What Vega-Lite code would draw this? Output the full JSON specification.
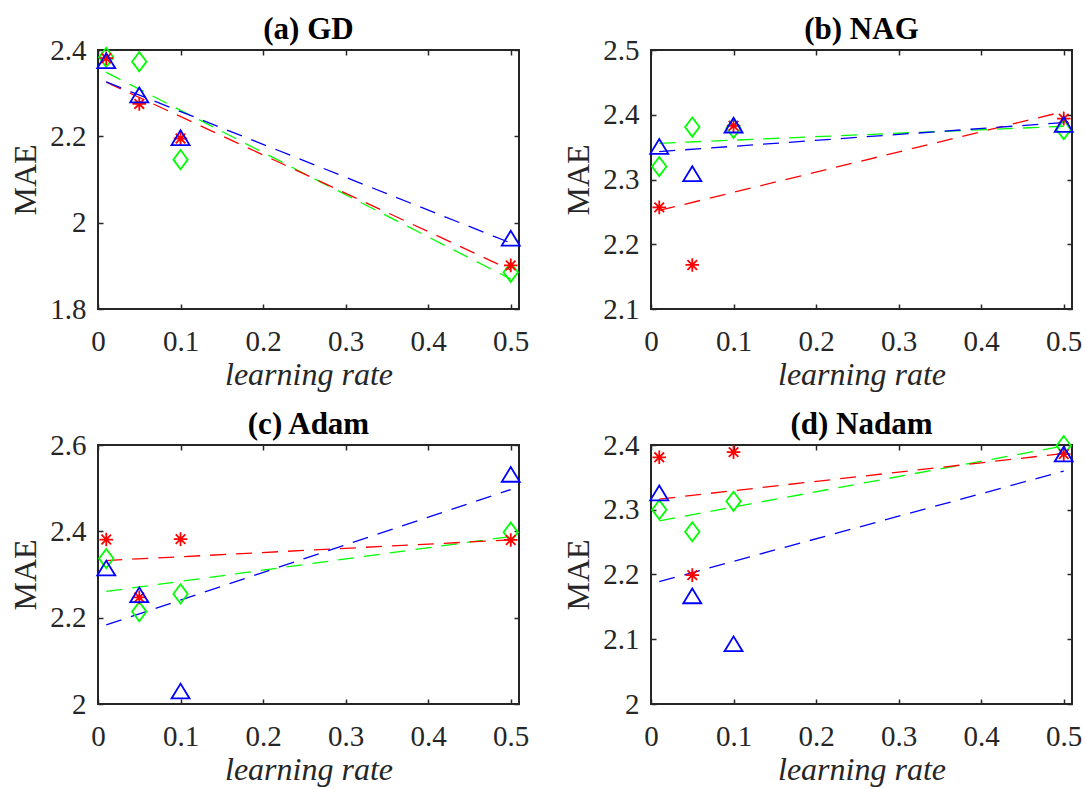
{
  "$schema": "https://vega.github.io/schema/vega-lite/v6.json",
  "autosize": {"type": "none"},
  "padding": {"left": 98, "top": 50, "right": 988, "bottom": 739},
  "background": "white",
  "bounds": "flush",
  "columns": 2,
  "spacing": {"row": 136, "column": 132},
  "datasets": {
    "pts": [
      {"p": "a", "s": "g", "x": 0.01, "y": 2.383}, {"p": "a", "s": "g", "x": 0.05, "y": 2.373}, {"p": "a", "s": "g", "x": 0.1, "y": 2.146}, {"p": "a", "s": "g", "x": 0.5, "y": 1.885},
      {"p": "a", "s": "r", "x": 0.01, "y": 2.381}, {"p": "a", "s": "r", "x": 0.05, "y": 2.275}, {"p": "a", "s": "r", "x": 0.1, "y": 2.195}, {"p": "a", "s": "r", "x": 0.5, "y": 1.901},
      {"p": "a", "s": "b", "x": 0.01, "y": 2.375}, {"p": "a", "s": "b", "x": 0.05, "y": 2.296}, {"p": "a", "s": "b", "x": 0.1, "y": 2.197}, {"p": "a", "s": "b", "x": 0.5, "y": 1.964},
      {"p": "b", "s": "g", "x": 0.01, "y": 2.320}, {"p": "b", "s": "g", "x": 0.05, "y": 2.381}, {"p": "b", "s": "g", "x": 0.1, "y": 2.379}, {"p": "b", "s": "g", "x": 0.5, "y": 2.377},
      {"p": "b", "s": "r", "x": 0.01, "y": 2.257}, {"p": "b", "s": "r", "x": 0.05, "y": 2.168}, {"p": "b", "s": "r", "x": 0.1, "y": 2.383}, {"p": "b", "s": "r", "x": 0.5, "y": 2.394},
      {"p": "b", "s": "b", "x": 0.01, "y": 2.351}, {"p": "b", "s": "b", "x": 0.05, "y": 2.309}, {"p": "b", "s": "b", "x": 0.1, "y": 2.384}, {"p": "b", "s": "b", "x": 0.5, "y": 2.385},
      {"p": "c", "s": "g", "x": 0.01, "y": 2.337}, {"p": "c", "s": "g", "x": 0.05, "y": 2.214}, {"p": "c", "s": "g", "x": 0.1, "y": 2.255}, {"p": "c", "s": "g", "x": 0.5, "y": 2.398},
      {"p": "c", "s": "r", "x": 0.01, "y": 2.381}, {"p": "c", "s": "r", "x": 0.05, "y": 2.247}, {"p": "c", "s": "r", "x": 0.1, "y": 2.382}, {"p": "c", "s": "r", "x": 0.5, "y": 2.380},
      {"p": "c", "s": "b", "x": 0.01, "y": 2.315}, {"p": "c", "s": "b", "x": 0.05, "y": 2.253}, {"p": "c", "s": "b", "x": 0.1, "y": 2.030}, {"p": "c", "s": "b", "x": 0.5, "y": 2.532},
      {"p": "d", "s": "g", "x": 0.01, "y": 2.300}, {"p": "d", "s": "g", "x": 0.05, "y": 2.266}, {"p": "d", "s": "g", "x": 0.1, "y": 2.313}, {"p": "d", "s": "g", "x": 0.5, "y": 2.399},
      {"p": "d", "s": "r", "x": 0.01, "y": 2.381}, {"p": "d", "s": "r", "x": 0.05, "y": 2.199}, {"p": "d", "s": "r", "x": 0.1, "y": 2.389}, {"p": "d", "s": "r", "x": 0.5, "y": 2.386},
      {"p": "d", "s": "b", "x": 0.01, "y": 2.326}, {"p": "d", "s": "b", "x": 0.05, "y": 2.167}, {"p": "d", "s": "b", "x": 0.1, "y": 2.093}, {"p": "d", "s": "b", "x": 0.5, "y": 2.386}
    ]
  },
  "concat": [
    {
      "width": 421, "height": 259,
      "title": {"text": "(a) GD"},
      "data": {"name": "pts"},
      "transform": [{"filter": "datum.p == 'a'"}],
      "resolve": {"axis": {"x": "independent", "y": "independent"}},
      "layer": [
        {
          "transform": [{"regression": "y", "on": "x", "groupby": ["s"]}],
          "mark": {"type": "line", "strokeDash": [16, 10], "strokeWidth": 1.3},
          "encoding": {
            "x": {"field": "x", "type": "quantitative", "scale": {"domain": [0, 0.51], "nice": false, "zero": false}, "axis": {"orient": "bottom", "values": [0, 0.1, 0.2, 0.3, 0.4, 0.5], "format": "~g", "title": "learning rate", "titleFontStyle": "italic", "titleX": 210.5, "titleY": 75, "titleBaseline": "alphabetic", "titleAlign": "center", "labelPadding": 23, "labelFlush": false}},
            "y": {"field": "y", "type": "quantitative", "scale": {"domain": [1.8, 2.4], "nice": false, "zero": false}, "axis": {"orient": "left", "values": [1.8, 2.0, 2.2, 2.4], "format": "~g", "title": "MAE", "titleX": -63, "titleY": 129.5, "titleAngle": -90, "titleBaseline": "alphabetic", "titleAlign": "center", "labelPadding": 17}},
            "color": {"field": "s", "type": "nominal", "scale": {"domain": ["r", "g", "b"], "range": ["#ff0000", "#00ff00", "#0000ff"]}, "legend": null}
          }
        },
        {
          "mark": {"type": "point", "filled": false, "opacity": 1, "strokeWidth": 1.8, "size": 400},
          "encoding": {
            "x": {"field": "x", "type": "quantitative", "scale": {"domain": [0, 0.51], "nice": false, "zero": false}, "axis": {"orient": "top", "values": [0, 0.1, 0.2, 0.3, 0.4, 0.5], "labels": false, "title": null}},
            "y": {"field": "y", "type": "quantitative", "scale": {"domain": [1.8, 2.4], "nice": false, "zero": false}, "axis": {"orient": "right", "values": [1.8, 2.0, 2.2, 2.4], "labels": false, "title": null}},
            "color": {"field": "s", "type": "nominal", "scale": {"domain": ["r", "g", "b"], "range": ["#ff0000", "#00ff00", "#0000ff"]}, "legend": null},
            "shape": {"field": "s", "type": "nominal", "scale": {"domain": ["r", "g", "b"], "range": ["M0,-0.68L0,0.68M-0.68,0L0.68,0M-0.48,-0.48L0.48,0.48M-0.48,0.48L0.48,-0.48", "M0,-0.96L0.72,0L0,0.96L-0.72,0Z", "M0,-0.74L0.9,0.74L-0.9,0.74Z"]}, "legend": null}
          }
        }
      ]
    },
    {
      "width": 421, "height": 259,
      "title": {"text": "(b) NAG"},
      "data": {"name": "pts"},
      "transform": [{"filter": "datum.p == 'b'"}],
      "resolve": {"axis": {"x": "independent", "y": "independent"}},
      "layer": [
        {
          "transform": [{"regression": "y", "on": "x", "groupby": ["s"]}],
          "mark": {"type": "line", "strokeDash": [16, 10], "strokeWidth": 1.3},
          "encoding": {
            "x": {"field": "x", "type": "quantitative", "scale": {"domain": [0, 0.51], "nice": false, "zero": false}, "axis": {"orient": "bottom", "values": [0, 0.1, 0.2, 0.3, 0.4, 0.5], "format": "~g", "title": "learning rate", "titleFontStyle": "italic", "titleX": 210.5, "titleY": 75, "titleBaseline": "alphabetic", "titleAlign": "center", "labelPadding": 23, "labelFlush": false}},
            "y": {"field": "y", "type": "quantitative", "scale": {"domain": [2.1, 2.5], "nice": false, "zero": false}, "axis": {"orient": "left", "values": [2.1, 2.2, 2.3, 2.4, 2.5], "format": "~g", "title": "MAE", "titleX": -63, "titleY": 129.5, "titleAngle": -90, "titleBaseline": "alphabetic", "titleAlign": "center", "labelPadding": 17}},
            "color": {"field": "s", "type": "nominal", "scale": {"domain": ["r", "g", "b"], "range": ["#ff0000", "#00ff00", "#0000ff"]}, "legend": null}
          }
        },
        {
          "mark": {"type": "point", "filled": false, "opacity": 1, "strokeWidth": 1.8, "size": 400},
          "encoding": {
            "x": {"field": "x", "type": "quantitative", "scale": {"domain": [0, 0.51], "nice": false, "zero": false}, "axis": {"orient": "top", "values": [0, 0.1, 0.2, 0.3, 0.4, 0.5], "labels": false, "title": null}},
            "y": {"field": "y", "type": "quantitative", "scale": {"domain": [2.1, 2.5], "nice": false, "zero": false}, "axis": {"orient": "right", "values": [2.1, 2.2, 2.3, 2.4, 2.5], "labels": false, "title": null}},
            "color": {"field": "s", "type": "nominal", "scale": {"domain": ["r", "g", "b"], "range": ["#ff0000", "#00ff00", "#0000ff"]}, "legend": null},
            "shape": {"field": "s", "type": "nominal", "scale": {"domain": ["r", "g", "b"], "range": ["M0,-0.68L0,0.68M-0.68,0L0.68,0M-0.48,-0.48L0.48,0.48M-0.48,0.48L0.48,-0.48", "M0,-0.96L0.72,0L0,0.96L-0.72,0Z", "M0,-0.74L0.9,0.74L-0.9,0.74Z"]}, "legend": null}
          }
        }
      ]
    },
    {
      "width": 421, "height": 259,
      "title": {"text": "(c) Adam"},
      "data": {"name": "pts"},
      "transform": [{"filter": "datum.p == 'c'"}],
      "resolve": {"axis": {"x": "independent", "y": "independent"}},
      "layer": [
        {
          "transform": [{"regression": "y", "on": "x", "groupby": ["s"]}],
          "mark": {"type": "line", "strokeDash": [16, 10], "strokeWidth": 1.3},
          "encoding": {
            "x": {"field": "x", "type": "quantitative", "scale": {"domain": [0, 0.51], "nice": false, "zero": false}, "axis": {"orient": "bottom", "values": [0, 0.1, 0.2, 0.3, 0.4, 0.5], "format": "~g", "title": "learning rate", "titleFontStyle": "italic", "titleX": 210.5, "titleY": 75, "titleBaseline": "alphabetic", "titleAlign": "center", "labelPadding": 23, "labelFlush": false}},
            "y": {"field": "y", "type": "quantitative", "scale": {"domain": [2.0, 2.6], "nice": false, "zero": false}, "axis": {"orient": "left", "values": [2.0, 2.2, 2.4, 2.6], "format": "~g", "title": "MAE", "titleX": -63, "titleY": 129.5, "titleAngle": -90, "titleBaseline": "alphabetic", "titleAlign": "center", "labelPadding": 17}},
            "color": {"field": "s", "type": "nominal", "scale": {"domain": ["r", "g", "b"], "range": ["#ff0000", "#00ff00", "#0000ff"]}, "legend": null}
          }
        },
        {
          "mark": {"type": "point", "filled": false, "opacity": 1, "strokeWidth": 1.8, "size": 400},
          "encoding": {
            "x": {"field": "x", "type": "quantitative", "scale": {"domain": [0, 0.51], "nice": false, "zero": false}, "axis": {"orient": "top", "values": [0, 0.1, 0.2, 0.3, 0.4, 0.5], "labels": false, "title": null}},
            "y": {"field": "y", "type": "quantitative", "scale": {"domain": [2.0, 2.6], "nice": false, "zero": false}, "axis": {"orient": "right", "values": [2.0, 2.2, 2.4, 2.6], "labels": false, "title": null}},
            "color": {"field": "s", "type": "nominal", "scale": {"domain": ["r", "g", "b"], "range": ["#ff0000", "#00ff00", "#0000ff"]}, "legend": null},
            "shape": {"field": "s", "type": "nominal", "scale": {"domain": ["r", "g", "b"], "range": ["M0,-0.68L0,0.68M-0.68,0L0.68,0M-0.48,-0.48L0.48,0.48M-0.48,0.48L0.48,-0.48", "M0,-0.96L0.72,0L0,0.96L-0.72,0Z", "M0,-0.74L0.9,0.74L-0.9,0.74Z"]}, "legend": null}
          }
        }
      ]
    },
    {
      "width": 421, "height": 259,
      "title": {"text": "(d) Nadam"},
      "data": {"name": "pts"},
      "transform": [{"filter": "datum.p == 'd'"}],
      "resolve": {"axis": {"x": "independent", "y": "independent"}},
      "layer": [
        {
          "transform": [{"regression": "y", "on": "x", "groupby": ["s"]}],
          "mark": {"type": "line", "strokeDash": [16, 10], "strokeWidth": 1.3},
          "encoding": {
            "x": {"field": "x", "type": "quantitative", "scale": {"domain": [0, 0.51], "nice": false, "zero": false}, "axis": {"orient": "bottom", "values": [0, 0.1, 0.2, 0.3, 0.4, 0.5], "format": "~g", "title": "learning rate", "titleFontStyle": "italic", "titleX": 210.5, "titleY": 75, "titleBaseline": "alphabetic", "titleAlign": "center", "labelPadding": 23, "labelFlush": false}},
            "y": {"field": "y", "type": "quantitative", "scale": {"domain": [2.0, 2.4], "nice": false, "zero": false}, "axis": {"orient": "left", "values": [2.0, 2.1, 2.2, 2.3, 2.4], "format": "~g", "title": "MAE", "titleX": -63, "titleY": 129.5, "titleAngle": -90, "titleBaseline": "alphabetic", "titleAlign": "center", "labelPadding": 17}},
            "color": {"field": "s", "type": "nominal", "scale": {"domain": ["r", "g", "b"], "range": ["#ff0000", "#00ff00", "#0000ff"]}, "legend": null}
          }
        },
        {
          "mark": {"type": "point", "filled": false, "opacity": 1, "strokeWidth": 1.8, "size": 400},
          "encoding": {
            "x": {"field": "x", "type": "quantitative", "scale": {"domain": [0, 0.51], "nice": false, "zero": false}, "axis": {"orient": "top", "values": [0, 0.1, 0.2, 0.3, 0.4, 0.5], "labels": false, "title": null}},
            "y": {"field": "y", "type": "quantitative", "scale": {"domain": [2.0, 2.4], "nice": false, "zero": false}, "axis": {"orient": "right", "values": [2.0, 2.1, 2.2, 2.3, 2.4], "labels": false, "title": null}},
            "color": {"field": "s", "type": "nominal", "scale": {"domain": ["r", "g", "b"], "range": ["#ff0000", "#00ff00", "#0000ff"]}, "legend": null},
            "shape": {"field": "s", "type": "nominal", "scale": {"domain": ["r", "g", "b"], "range": ["M0,-0.68L0,0.68M-0.68,0L0.68,0M-0.48,-0.48L0.48,0.48M-0.48,0.48L0.48,-0.48", "M0,-0.96L0.72,0L0,0.96L-0.72,0Z", "M0,-0.74L0.9,0.74L-0.9,0.74Z"]}, "legend": null}
          }
        }
      ]
    }
  ],
  "config": {
    "view": {"stroke": "#262626", "strokeWidth": 2},
    "axis": {"domain": false, "grid": false, "ticks": true, "tickSize": -5, "tickWidth": 1.5, "tickColor": "#262626", "labelFont": "Liberation Serif, Times New Roman, serif", "labelFontSize": 29, "labelColor": "#262626", "titleFont": "Liberation Serif, Times New Roman, serif", "titleFontSize": 32, "titleColor": "#262626", "titleFontWeight": "normal"},
    "title": {"font": "Liberation Serif, Times New Roman, serif", "fontSize": 31, "fontWeight": "bold", "color": "#000000", "baseline": "alphabetic", "offset": -10, "anchor": "middle"}
  }
}
